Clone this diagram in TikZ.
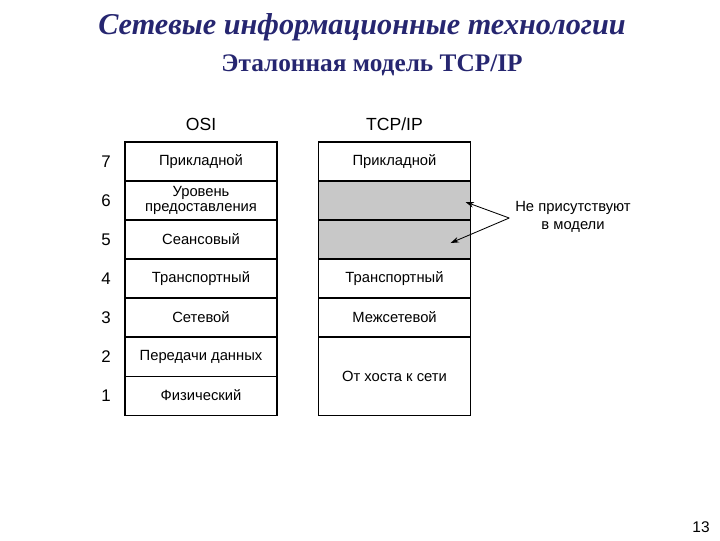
\documentclass[tikz,border=0pt]{standalone}
\usepackage{fontspec}
\setmainfont{Liberation Sans}
\newfontfamily\titlefont{Liberation Serif}
\definecolor{titleblue}{RGB}{38,38,112}
\definecolor{layergray}{RGB}{200,200,200}
\usetikzlibrary{arrows.meta,positioning,calc}

\begin{document}
\begin{tikzpicture}[x=0.025cm,y=-0.025cm,
  layerbox/.style={draw,line width=0.8pt,minimum width=3.8cm,minimum height=0.975cm,
    inner sep=0pt,outer sep=0pt,align=center,font=\fontsize{10.5}{11}\selectfont},
  layernum/.style={font=\fontsize{12}{12}\selectfont},
  colhead/.style={font=\fontsize{12.5}{12}\selectfont},
  notearrow/.style={-{Stealth[length=6pt,width=4pt]},line width=0.6pt}
]
  \useasboundingbox (0,0) rectangle (720,540);
  % Titles
  \node[font=\titlefont\bfseries\itshape\fontsize{21.5}{24}\selectfont,text=titleblue] (title) at (362,27)
    {Сетевые информационные технологии};
  \node[font=\titlefont\bfseries\fontsize{18}{20}\selectfont,text=titleblue] (subtitle) at (372,65)
    {Эталонная модель TCP/IP};
  % OSI stack
  \node[layerbox] (osi7) at (201,161.5) {Прикладной};
  \node[layerbox,below=0pt of osi7] (osi6) {Уровень\\предоставления};
  \node[layerbox,below=0pt of osi6] (osi5) {Сеансовый};
  \node[layerbox,below=0pt of osi5] (osi4) {Транспортный};
  \node[layerbox,below=0pt of osi4] (osi3) {Сетевой};
  \node[layerbox,below=0pt of osi3] (osi2) {Передачи данных};
  \node[layerbox,below=0pt of osi2] (osi1) {Физический};
  \node[colhead] (osihead) at (201,124) {OSI};
  \foreach \i in {1,...,7}
    \node[layernum] (num\i) at ($(osi\i.west)+(-19,0)$) {\i};
  % TCP/IP stack
  \node[layerbox] (tcp7) at (394.5,161.5) {Прикладной};
  \node[layerbox,fill=layergray,below=0pt of tcp7] (tcp6) {};
  \node[layerbox,fill=layergray,below=0pt of tcp6] (tcp5) {};
  \node[layerbox,below=0pt of tcp5] (tcp4) {Транспортный};
  \node[layerbox,below=0pt of tcp4] (tcp3) {Межсетевой};
  \node[layerbox,minimum height=1.95cm,below=0pt of tcp3] (tcp1) {От хоста к сети};
  \node[colhead] (tcphead) at (394.5,124) {TCP/IP};
  % Missing layers note
  \node[align=center,font=\fontsize{10.5}{12.8}\selectfont,inner sep=2pt] (note) at (573,216.5)
    {Не присутствуют\\в модели};
  \draw[notearrow] ($(note.west)+(-3,1.5)$) -- ($(tcp6.east)+(-5,1.5)$);
  \draw[notearrow] ($(note.west)+(-3,1.5)$) -- ($(tcp5.east)+(-20,3.5)$);
  % Page number
  \node[font=\fontsize{11}{11}\selectfont] (pagenum) at (701,527) {13};
\end{tikzpicture}
\end{document}
